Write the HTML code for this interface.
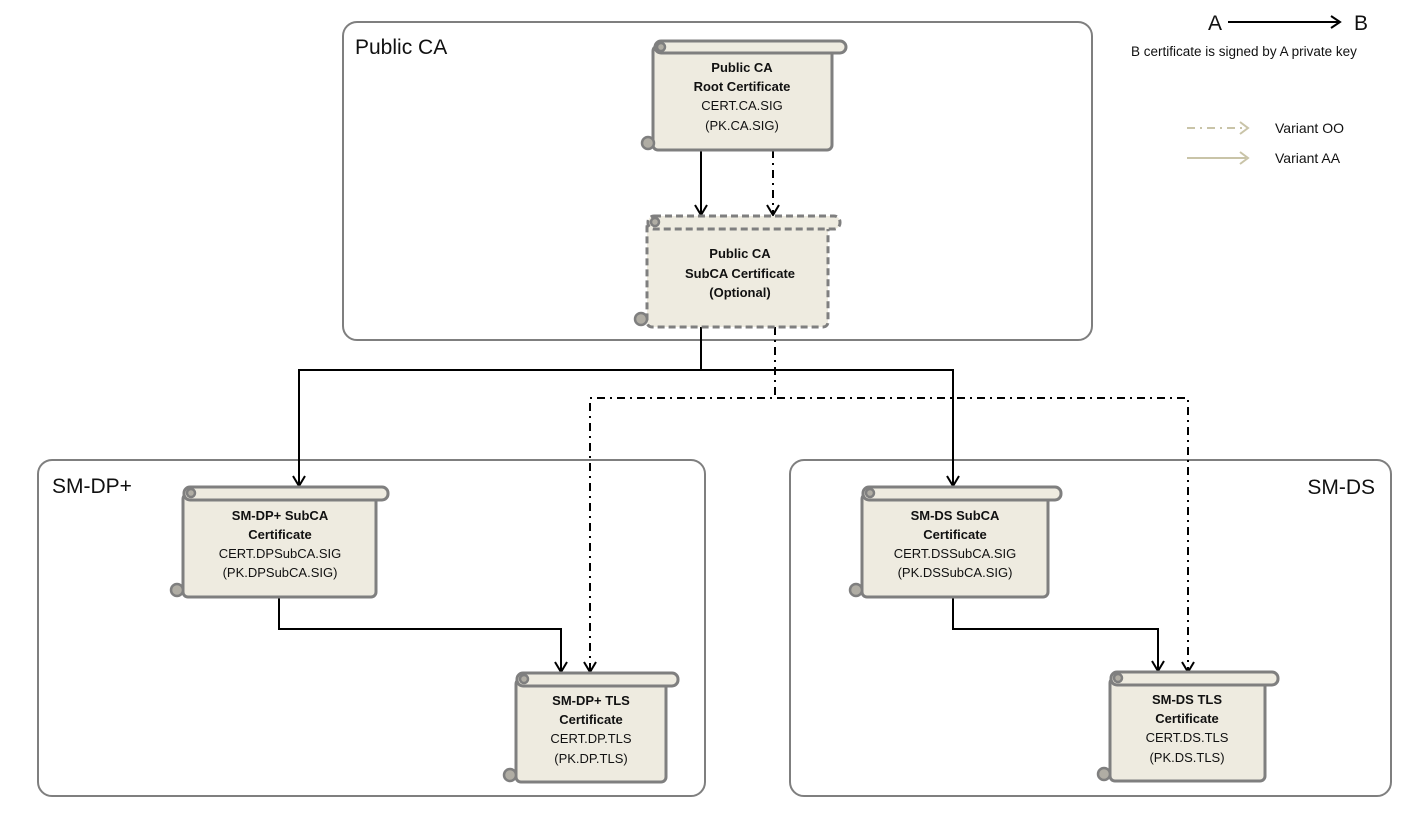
<!DOCTYPE html>
<html><head><meta charset="utf-8"><style>
html,body{margin:0;padding:0;background:#fff;}
svg{display:block;}
text{font-family:"Liberation Sans",sans-serif;}
</style></head><body>
<svg width="1427" height="816" viewBox="0 0 1427 816" xmlns="http://www.w3.org/2000/svg">
<rect x="343" y="22" width="749" height="318" rx="14" fill="none" stroke="#7f7f7f" stroke-width="2"/>
<rect x="38" y="460" width="667" height="336" rx="14" fill="none" stroke="#7f7f7f" stroke-width="2"/>
<rect x="790" y="460" width="601" height="336" rx="14" fill="none" stroke="#7f7f7f" stroke-width="2"/>
<text x="355" y="54" font-size="21" fill="#111">Public CA</text>
<text x="52" y="493" font-size="21" fill="#111">SM-DP+</text>
<text x="1375" y="494" font-size="21" fill="#111" text-anchor="end">SM-DS</text>

<text x="1208" y="30" font-size="21" fill="#111">A</text>
<line x1="1228" y1="22" x2="1338" y2="22" stroke="#000" stroke-width="2"/>
<path d="M1331,16 L1340,22 L1331,28" fill="none" stroke="#000" stroke-width="2"/>
<text x="1354" y="30" font-size="21" fill="#111">B</text>
<text x="1131" y="56" font-size="13.5" fill="#111">B certificate is signed by A private key</text>
<line x1="1187" y1="128" x2="1246" y2="128" stroke="#c9c4a8" stroke-width="2" stroke-dasharray="8,5,2,5"/>
<path d="M1240,122 L1248,128 L1240,134" fill="none" stroke="#c9c4a8" stroke-width="2"/>
<line x1="1187" y1="158" x2="1246" y2="158" stroke="#c9c4a8" stroke-width="2"/>
<path d="M1240,152 L1248,158 L1240,164" fill="none" stroke="#c9c4a8" stroke-width="2"/>
<text x="1275" y="133" font-size="14" fill="#111">Variant OO</text>
<text x="1275" y="163" font-size="14" fill="#111">Variant AA</text>

<g fill="none" stroke="#000" stroke-width="2">
<line x1="701" y1="150" x2="701" y2="214"/>
<path d="M695,205 L701,215 L707,205"/>
<line x1="773" y1="150" x2="773" y2="214" stroke-dasharray="8,5,2,5"/>
<path d="M767,205 L773,215 L779,205"/>
<polyline points="701,327 701,370"/>
<polyline points="299,485 299,370 953,370 953,485"/>
<path d="M293,476 L299,486 L305,476"/>
<path d="M947,476 L953,486 L959,476"/>
<g stroke-dasharray="8,5,2,5">
<polyline points="775,327 775,398"/>
<polyline points="590,671 590,398 1188,398 1188,671"/>
</g>
<path d="M584,662 L590,672 L596,662"/>
<path d="M1182,662 L1188,672 L1194,662"/>
<polyline points="279,597 279,629 561,629 561,671"/>
<path d="M555,662 L561,672 L567,662"/>
<polyline points="953,597 953,629 1158,629 1158,670"/>
<path d="M1152,661 L1158,671 L1164,661"/>
</g>

<g fill="#eeebe0" stroke="#7f7f7f" stroke-width="3">
<rect x="653" y="46" width="179" height="104" rx="5"/>
<rect x="655" y="41" width="191" height="12" rx="6"/>
<g stroke-dasharray="7,4">
<rect x="647" y="222" width="181" height="105" rx="5"/>
<rect x="648" y="216" width="192" height="13" rx="6"/>
</g>
<rect x="183" y="494" width="193" height="103" rx="5"/>
<rect x="184" y="487" width="204" height="13" rx="6"/>
<rect x="516" y="679" width="150" height="103" rx="5"/>
<rect x="517" y="673" width="161" height="13" rx="6"/>
<rect x="862" y="494" width="186" height="103" rx="5"/>
<rect x="863" y="487" width="198" height="13" rx="6"/>
<rect x="1110" y="678" width="155" height="103" rx="5"/>
<rect x="1111" y="672" width="167" height="13" rx="6"/>
</g>
<g fill="#b0ada4" stroke="#7f7f7f" stroke-width="2.5">
<circle cx="661" cy="47" r="4"/><circle cx="648" cy="143" r="6"/>
<circle cx="655" cy="222" r="4"/><circle cx="641" cy="319" r="6"/>
<circle cx="191" cy="493" r="4"/><circle cx="177" cy="590" r="6"/>
<circle cx="524" cy="679" r="4"/><circle cx="510" cy="775" r="6"/>
<circle cx="870" cy="493" r="4"/><circle cx="856" cy="590" r="6"/>
<circle cx="1118" cy="678" r="4"/><circle cx="1104" cy="774" r="6"/>
</g>

<g font-size="13" fill="#111" text-anchor="middle">
<text x="742" y="72" font-weight="bold">Public CA</text>
<text x="742" y="91" font-weight="bold">Root Certificate</text>
<text x="742" y="110">CERT.CA.SIG</text>
<text x="742" y="130">(PK.CA.SIG)</text>
<text x="740" y="258" font-weight="bold">Public CA</text>
<text x="740" y="278" font-weight="bold">SubCA Certificate</text>
<text x="740" y="297" font-weight="bold">(Optional)</text>
<text x="280" y="520" font-weight="bold">SM-DP+ SubCA</text>
<text x="280" y="539" font-weight="bold">Certificate</text>
<text x="280" y="558">CERT.DPSubCA.SIG</text>
<text x="280" y="577">(PK.DPSubCA.SIG)</text>
<text x="591" y="705" font-weight="bold">SM-DP+ TLS</text>
<text x="591" y="724" font-weight="bold">Certificate</text>
<text x="591" y="743">CERT.DP.TLS</text>
<text x="591" y="763">(PK.DP.TLS)</text>
<text x="955" y="520" font-weight="bold">SM-DS SubCA</text>
<text x="955" y="539" font-weight="bold">Certificate</text>
<text x="955" y="558">CERT.DSSubCA.SIG</text>
<text x="955" y="577">(PK.DSSubCA.SIG)</text>
<text x="1187" y="704" font-weight="bold">SM-DS TLS</text>
<text x="1187" y="723" font-weight="bold">Certificate</text>
<text x="1187" y="742">CERT.DS.TLS</text>
<text x="1187" y="762">(PK.DS.TLS)</text>
</g>
</svg>
</body></html>
